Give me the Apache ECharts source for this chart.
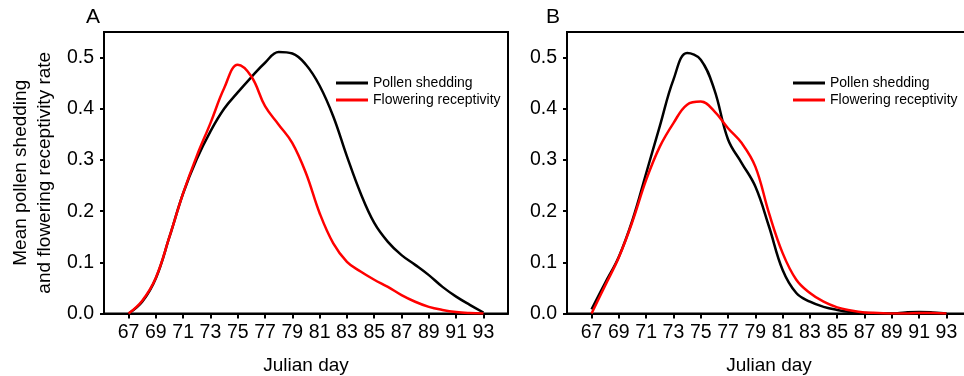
<!DOCTYPE html>
<html>
<head>
<meta charset="utf-8">
<script src="https://cdn.jsdelivr.net/npm/echarts@6/dist/echarts.min.js"></script>
<style>
  html, body { margin: 0; padding: 0; background: #fff; }
  #chart { width: 964px; height: 376px; }
</style>
</head>
<body>
<div id="chart"></div>
<script>
// Julian days 67..93
const days = [67, 68, 69, 70, 71, 72, 73, 74, 75, 76, 77, 78, 79, 80, 81, 82, 83, 84, 85, 86, 87, 88, 89, 90, 91, 92, 93];
const tickDays = [67, 69, 71, 73, 75, 77, 79, 81, 83, 85, 87, 89, 91, 93];
const yTicks = [0, 0.1, 0.2, 0.3, 0.4, 0.5];

// panel A
const pollenA = [0, 0.023, 0.069, 0.15, 0.235, 0.302, 0.356, 0.400, 0.432, 0.462, 0.490, 0.511, 0.508, 0.486, 0.445, 0.385, 0.307, 0.235, 0.177, 0.140, 0.114, 0.095, 0.075, 0.052, 0.033, 0.017, 0.002];
const receptA = [0, 0.025, 0.070, 0.15, 0.235, 0.308, 0.372, 0.440, 0.486, 0.463, 0.405, 0.369, 0.333, 0.274, 0.196, 0.137, 0.101, 0.082, 0.066, 0.052, 0.036, 0.023, 0.013, 0.007, 0.003, 0.001, 0];

// panel B
const pollenB = [0.008, 0.060, 0.111, 0.183, 0.274, 0.366, 0.457, 0.509, 0.496, 0.437, 0.340, 0.294, 0.248, 0.170, 0.085, 0.040, 0.023, 0.013, 0.007, 0.003, 0.001, 0, 0, 0.002, 0.003, 0.002, 0];
const receptB = [0, 0.055, 0.110, 0.180, 0.261, 0.326, 0.372, 0.408, 0.414, 0.395, 0.362, 0.333, 0.287, 0.196, 0.118, 0.066, 0.040, 0.023, 0.012, 0.006, 0.002, 0.001, 0, 0, 0.001, 0.001, 0];

const FONT = 'Liberation Sans, Arial, sans-serif';

function pairs(vals) {
  return days.map((d, i) => [d, vals[i]]);
}

function xAxisOf(idx) {
  return {
    type: 'value',
    gridIndex: idx,
    min: 65.2,
    max: 94.8,
    name: 'Julian day',
    nameLocation: 'middle',
    nameGap: 43,
    nameTextStyle: {color: '#000', fontSize: 19, fontFamily: FONT},
    axisLine: {show: true, lineStyle: {color: '#000', width: 2}},
    axisTick: {show: true, customValues: tickDays, length: 5, lineStyle: {color: '#000', width: 2}},
    axisLabel: {customValues: tickDays, color: '#000', fontSize: 19.5, fontFamily: FONT, margin: 9},
    splitLine: {show: false}
  };
}

function yAxisOf(idx, withName) {
  return {
    type: 'value',
    gridIndex: idx,
    min: 0,
    max: 0.55,
    name: withName ? 'Mean pollen shedding\nand flowering receptivity rate' : '',
    nameLocation: 'middle',
    nameGap: 47,
    nameTextStyle: {color: '#000', fontSize: 19, fontFamily: FONT, lineHeight: 24},
    axisLine: {show: true, lineStyle: {color: '#000', width: 2}},
    axisTick: {show: true, customValues: yTicks, length: 4, lineStyle: {color: '#000', width: 2}},
    axisLabel: {customValues: yTicks, color: '#000', fontSize: 19.5, fontFamily: FONT, margin: 10,
      formatter: v => v.toFixed(1)},
    splitLine: {show: false}
  };
}

function lineOf(name, vals, color, idx) {
  return {
    name: name,
    type: 'line',
    xAxisIndex: idx,
    yAxisIndex: idx,
    data: pairs(vals),
    smooth: 0.4,
    symbol: 'none',
    lineStyle: {color: color, width: 2.5},
    itemStyle: {color: color}
  };
}

function legendOf(left) {
  return {
    orient: 'vertical',
    left: left,
    top: 71,
    icon: 'rect',
    itemWidth: 32,
    itemHeight: 3,
    itemGap: 3,
    textStyle: {color: '#000', fontSize: 14, fontFamily: FONT, padding: [0, 0, 0, 0]},
    data: ['Pollen shedding', 'Flowering receptivity']
  };
}

const chart = echarts.init(document.getElementById('chart'));
chart.setOption({
  animation: false,
  backgroundColor: '#fff',
  grid: [
    {left: 104, top: 32, width: 404, height: 281.5, show: true, borderColor: '#000', borderWidth: 2,
      containLabel: false, outerBoundsMode: 'none'},
    {left: 567, top: 32, width: 404, height: 281.5, show: true, borderColor: '#000', borderWidth: 2,
      containLabel: false, outerBoundsMode: 'none'}
  ],
  xAxis: [xAxisOf(0), xAxisOf(1)],
  yAxis: [yAxisOf(0, true), yAxisOf(1, false)],
  legend: [legendOf(331), legendOf(788)],
  graphic: [
    {type: 'text', left: 86, top: 7, style: {text: 'A', fontSize: 21, fontFamily: FONT, fill: '#000'}},
    {type: 'text', left: 546, top: 7, style: {text: 'B', fontSize: 21, fontFamily: FONT, fill: '#000'}}
  ],
  series: [
    lineOf('Pollen shedding', pollenA, '#000000', 0),
    lineOf('Flowering receptivity', receptA, '#ff0000', 0),
    lineOf('Pollen shedding', pollenB, '#000000', 1),
    lineOf('Flowering receptivity', receptB, '#ff0000', 1)
  ]
});
</script>
</body>
</html>
